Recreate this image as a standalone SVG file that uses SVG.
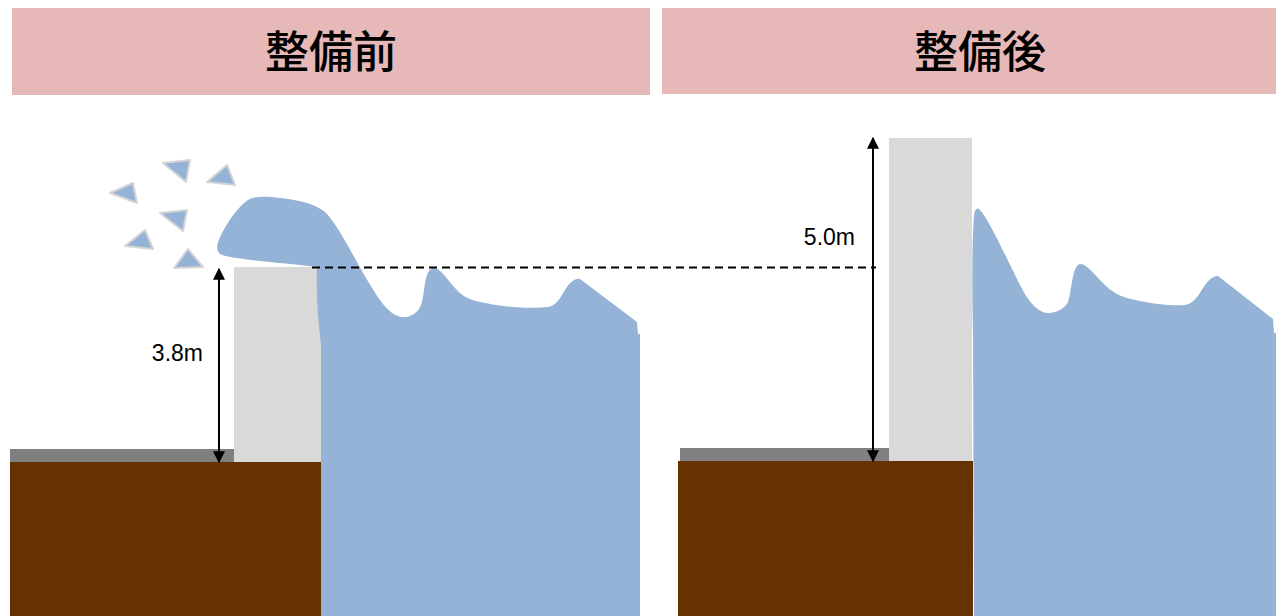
<svg xmlns="http://www.w3.org/2000/svg" width="1283" height="616" viewBox="0 0 1283 616">
  <style>
    .header { fill: #e6b8b7; }
    .title { font-family: "Noto Sans CJK JP", "Noto Sans", sans-serif; font-size: 44px; font-weight: 500; fill: #000; text-anchor: middle; }
    .label { font-family: "Liberation Sans", Arial, sans-serif; font-size: 23px; fill: #000; text-anchor: end; }
    .water { fill: #95b3d7; }
    .wall { fill: #d9d9d9; }
    .road { fill: #808080; }
    .ground { fill: #663300; }
    .spray { fill: #95b3d7; stroke: #d4d4d4; stroke-width: 2; stroke-linejoin: round; }
    .dim { stroke: #000; stroke-width: 2; fill: none; marker-start: url(#head); marker-end: url(#head); }
    .level { stroke: #000; stroke-width: 2; stroke-dasharray: 8 5; fill: none; }
  </style>
  <defs>
    <marker id="head" viewBox="0 0 10 10" refX="9" refY="5" markerWidth="6" markerHeight="6" orient="auto-start-reverse" markerUnits="strokeWidth">
      <path d="M0 0 L10 5 L0 10 Z" fill="#000"/>
    </marker>
  </defs>

  <rect width="1283" height="616" fill="#fff"/>

  <!-- Headers -->
  <g id="header-before">
    <rect class="header" x="12" y="8" width="638" height="87"/>
    <text class="title" x="331" y="68">整備前</text>
  </g>
  <g id="header-after">
    <rect class="header" x="662" y="8" width="614" height="86"/>
    <text class="title" x="980" y="68">整備後</text>
  </g>

  <!-- Before: low seawall overtopped by the wave -->
  <g id="scene-before">
    <rect class="road" x="10" y="449" width="226" height="14"/>
    <rect class="wall" x="234" y="267" width="88" height="196"/>
    <rect class="ground" x="10" y="462" width="312" height="154"/>
    <path class="water" d="M321 616 L321 345 C318 320 316 295 317 267
      L300 265 C270 262 235 259 222 255 C215 252 216 245 222 233
      C230 218 240 205 248 200 C254 196 265 196 280 198
      C300 200 315 204 325 212 C340 226 362 275 380 300
      C390 314 400 320 410 316 C420 312 422 305 424 290
      C426 274 429 268 434 268 C440 268 446 278 455 288
      C462 296 468 299 476 301 C500 307 530 309 548 307
      C556 306 560 298 565 290 C570 282 575 278 580 279
      L637 322 L638 334 L640 334 L640 616 Z"/>
    <g id="spray">
      <polygon class="spray" points="163,163 190,160 186,182"/>
      <polygon class="spray" points="207,182 227,165 235,185"/>
      <polygon class="spray" points="110,193 133,183 137,203"/>
      <polygon class="spray" points="160,213 187,210 183,231"/>
      <polygon class="spray" points="125,246 145,230 153,249"/>
      <polygon class="spray" points="174,268 188,249 203,267"/>
    </g>
  </g>

  <!-- After: raised seawall -->
  <g id="scene-after">
    <rect class="road" x="680" y="448" width="211" height="13"/>
    <rect class="wall" x="889" y="138" width="83" height="323"/>
    <rect class="ground" x="678" y="461" width="295" height="155"/>
    <path class="water" d="M974 616 L973 335 C972 290 972 240 974 215
      C975 209 977 207 980 210 C988 218 1005 255 1020 285
      C1030 305 1040 314 1050 313 C1058 312 1065 308 1068 302
      C1072 290 1072 266 1080 264 C1086 263 1095 275 1105 285
      C1115 295 1125 298 1140 301 C1160 305 1175 306 1185 305
      C1193 304 1198 296 1203 288 C1208 280 1213 276 1218 276
      L1273 319 L1274 333 L1276 333 L1276 616 Z"/>
  </g>

  <!-- Dimension lines and water level -->
  <g id="connectors">
    <line class="level" x1="312" y1="267.5" x2="876" y2="267.5"/>
    <line id="dim-before" class="dim" x1="219" y1="269" x2="219" y2="462"/>
    <line id="dim-after" class="dim" x1="873" y1="138" x2="873" y2="461"/>
  </g>

  <g id="labels">
    <text class="label" x="203" y="361">3.8m</text>
    <text class="label" x="855" y="245">5.0m</text>
  </g>
</svg>
